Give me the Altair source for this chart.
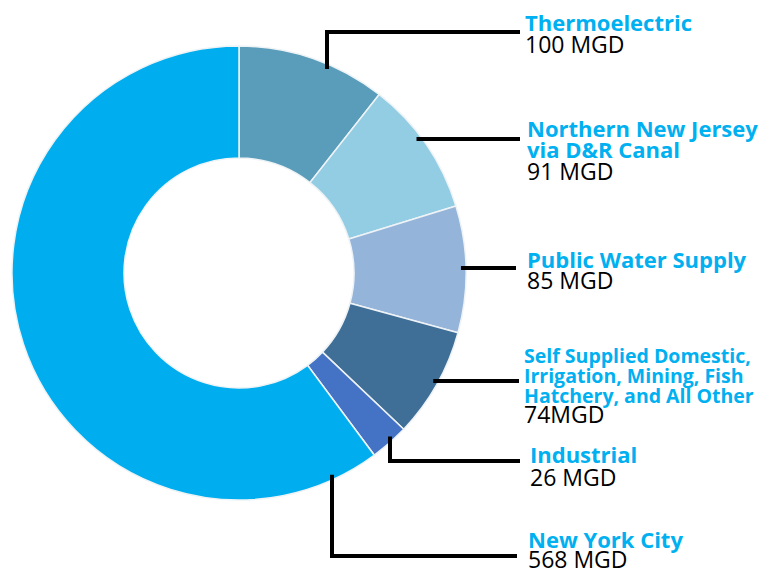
import math
import altair as alt
import pandas as pd

# ---- data ----
categories = ["Thermoelectric", "Northern New Jersey via D&R Canal", "Public Water Supply",
              "Self Supplied Domestic, Irrigation, Mining, Fish Hatchery, and All Other",
              "Industrial", "New York City"]
title_lines = [["Thermoelectric"], ["Northern New Jersey", "via D&R Canal"], ["Public Water Supply"],
               ["Self Supplied Domestic,", "Irrigation, Mining, Fish", "Hatchery, and All Other"],
               ["Industrial"], ["New York City"]]
values = [100, 91, 85, 74, 26, 568]
value_labels = ["100 MGD", "91 MGD", "85 MGD", "74MGD", "26 MGD", "568 MGD"]
colors = ["#5a9dba", "#92cde4", "#95b4da", "#3f6e97", "#4472c4", "#00aeef"]

# ---- layout (chart pixel coordinates) ----
W, H = 761, 561
CX, CY = 231, 265
R_OUT, R_IN = 227, 115
R_ANCHOR = 224
label_x = [517, 519, 519, 516, 522, 520]
title_baseline = [23, 129, 260, 355, 455, 540]
line_gap = [21, 21, 21, 20, 21, 21]
title_size = [22, 22, 22, 19.5, 22, 22]
value_size = [23, 23, 23, 23, 23, 23]
value_gap = [22, 22, 21, 20, 23, 20]
leader_y = [24, 131, 260, 373, 453, 548]
leader_end = [510, 510, 506, 509, 510, 507]
elbow_x = [319, None, None, None, 382, 324]   # vertical drop/rise from ring edge
elbow_side = [-1, 0, 0, 0, 1, 1]

slices = pd.DataFrame({"category": categories, "value": values, "idx": list(range(len(values)))})

text_rows = []
for i, lines in enumerate(title_lines):
    y = title_baseline[i]
    for ln in lines:
        text_rows.append({"x": label_x[i], "y": y, "text": ln, "kind": "title", "fs": title_size[i]})
        y += line_gap[i]
    y = y - line_gap[i] + value_gap[i]
    text_rows.append({"x": label_x[i], "y": y, "text": value_labels[i], "kind": "value", "fs": value_size[i]})
texts = pd.DataFrame(text_rows)

leader_rows = []
for i in range(len(values)):
    if elbow_x[i] is not None:
        ex = elbow_x[i]
        ay = CY + elbow_side[i] * math.sqrt(R_ANCHOR ** 2 - (ex - CX) ** 2)
        pts = [(ex, ay), (ex, leader_y[i]), (leader_end[i], leader_y[i])]
    else:
        ly = leader_y[i]
        ax = CX + math.sqrt(max(R_ANCHOR ** 2 - (ly - CY) ** 2, 0))
        pts = [(ax, ly), (leader_end[i], ly)]
    for k, (px, py) in enumerate(pts):
        leader_rows.append({"id": i, "seq": k, "x": px, "y": py})
leaders = pd.DataFrame(leader_rows)

xs = alt.Scale(domain=[0, W], nice=False, zero=False)
ys = alt.Scale(domain=[0, H], nice=False, zero=False, reverse=True)

donut = alt.Chart(slices).mark_arc(outerRadius=R_OUT, innerRadius=R_IN, stroke="#eef3f6",
                                   strokeWidth=1.5).encode(
    theta=alt.Theta("value:Q", stack=True),
    color=alt.Color("category:N", scale=alt.Scale(domain=categories, range=colors), legend=None),
    order=alt.Order("idx:Q"),
    x=alt.value(CX),
    y=alt.value(CY),
)

lines_layer = alt.Chart(leaders).mark_line(color="black", strokeWidth=4, strokeJoin="miter",
                                           strokeCap="square").encode(
    x=alt.X("x:Q", scale=xs, axis=None),
    y=alt.Y("y:Q", scale=ys, axis=None),
    detail="id:N",
    order="seq:Q",
)

titles = alt.Chart(texts).transform_filter(alt.datum.kind == "title").mark_text(
    align="left", baseline="alphabetic", font="Open Sans", fontWeight="bold", color="#00b0f0").encode(
    x=alt.X("x:Q", scale=xs, axis=None),
    y=alt.Y("y:Q", scale=ys, axis=None),
    text="text:N",
    size=alt.Size("fs:Q", scale=None),
)

vals = alt.Chart(texts).transform_filter(alt.datum.kind == "value").mark_text(
    align="left", baseline="alphabetic", font="Open Sans", color="black").encode(
    x=alt.X("x:Q", scale=xs, axis=None),
    y=alt.Y("y:Q", scale=ys, axis=None),
    text="text:N",
    size=alt.Size("fs:Q", scale=None),
)

chart = alt.layer(donut, lines_layer, titles, vals).properties(
    width=W, height=H, padding=0, autosize=alt.AutoSizeParams(type="none"),
    background="white",
).configure_view(stroke=None)

chart.save("out.html", embed_options={"renderer": "svg", "actions": False})
